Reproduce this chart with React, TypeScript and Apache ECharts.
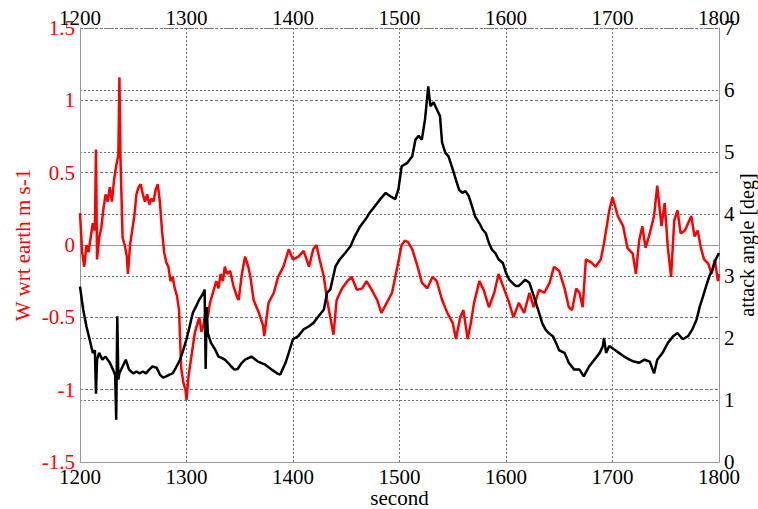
import React, { useEffect, useRef } from "react";
import * as echarts from "echarts";

const xTicks = [1200, 1300, 1400, 1500, 1600, 1700, 1800];

const redTime = [
  1200, 1202, 1204, 1206, 1208, 1210, 1212, 1214, 1215, 1216, 1218, 1220, 1222, 1224, 1226, 1228, 1230, 1232, 1234, 1236,
  1237, 1238, 1240, 1242, 1244, 1245, 1247, 1249, 1251, 1253, 1255, 1257, 1259, 1261, 1263, 1265, 1267, 1269, 1271, 1273,
  1275, 1277, 1279, 1281, 1283, 1285, 1287, 1289, 1291, 1293, 1295, 1297, 1299, 1300, 1302, 1304, 1306, 1308, 1310, 1312,
  1314, 1316, 1318, 1320, 1322, 1324, 1326, 1328, 1330, 1332, 1334, 1336, 1338, 1341, 1344, 1347, 1349, 1352, 1355, 1358,
  1360, 1363, 1368, 1372, 1373, 1377, 1382, 1386, 1391, 1396, 1400, 1405, 1410, 1415, 1419, 1422, 1425, 1429, 1432, 1435,
  1438, 1441, 1446, 1451, 1455, 1460, 1465, 1469, 1474, 1479, 1483, 1488, 1493, 1498, 1502, 1505, 1508, 1512, 1517, 1521,
  1526, 1531, 1535, 1540, 1545, 1550, 1553, 1557, 1560, 1564, 1567, 1570, 1575, 1579, 1584, 1589, 1593, 1598, 1603, 1607,
  1612, 1617, 1622, 1626, 1631, 1636, 1641, 1645, 1650, 1655, 1659, 1662, 1666, 1669, 1672, 1675, 1680, 1684, 1689, 1692,
  1697, 1700, 1705, 1710, 1714, 1719, 1722, 1725, 1728, 1731, 1735, 1739, 1742, 1746, 1749, 1752, 1755, 1758, 1761, 1764,
  1768, 1771, 1774, 1777, 1780, 1783, 1786, 1790, 1793, 1796, 1799, 1800,
];
const redValues = [
  0.22, -0.05, -0.15, 0.0, -0.05, 0.05, 0.15, 0.1, 0.66, -0.1, 0.05, 0.12, 0.25, 0.35, 0.3, 0.4, 0.3, 0.45, 0.55, 0.62,
  1.16, 0.6, 0.05, 0.0, -0.08, -0.2, 0.0, 0.1, 0.2, 0.35, 0.4, 0.42, 0.35, 0.3, 0.35, 0.28, 0.32, 0.3, 0.38, 0.42,
  0.3, 0.1, -0.05, -0.12, -0.15, -0.25, -0.22, -0.3, -0.35, -0.45, -0.85, -0.95, -1.0, -1.07, -0.9, -0.8, -0.7, -0.6, -0.55, -0.5,
  -0.6, -0.55, -0.45, -0.5, -0.4, -0.35, -0.3, -0.25, -0.3, -0.2, -0.25, -0.15, -0.2, -0.18, -0.28, -0.35, -0.38, -0.2, -0.08, -0.15,
  -0.22, -0.38, -0.47, -0.56, -0.63, -0.4, -0.33, -0.22, -0.15, -0.03, -0.1, -0.08, -0.04, -0.15, -0.03, 0.0, -0.1, -0.22, -0.38, -0.5,
  -0.62, -0.38, -0.3, -0.25, -0.22, -0.31, -0.3, -0.25, -0.31, -0.38, -0.47, -0.4, -0.33, -0.15, 0.0, 0.03, 0.02, -0.03, -0.15, -0.26,
  -0.3, -0.22, -0.25, -0.38, -0.47, -0.54, -0.65, -0.5, -0.45, -0.65, -0.54, -0.4, -0.25, -0.31, -0.43, -0.33, -0.2, -0.3, -0.4, -0.5,
  -0.4, -0.47, -0.33, -0.43, -0.31, -0.33, -0.26, -0.15, -0.18, -0.3, -0.43, -0.45, -0.3, -0.33, -0.43, -0.1, -0.12, -0.15, -0.1, 0.01,
  0.24, 0.33, 0.2, 0.13, -0.02, -0.06, -0.2, 0.03, 0.13, -0.02, 0.08, 0.2, 0.41, 0.13, 0.29, -0.02, -0.22, 0.17, 0.24, 0.08,
  0.1, 0.15, 0.2, 0.06, 0.1, -0.02, -0.1, -0.13, -0.2, -0.1, -0.25, -0.2,
];

const blackTime = [
  1200, 1203, 1206, 1209, 1212, 1214, 1215, 1216, 1218, 1221, 1224, 1228, 1231, 1233, 1234, 1235, 1236, 1237, 1240, 1243,
  1246, 1250, 1253, 1256, 1259, 1262, 1265, 1268, 1272, 1275, 1278, 1281, 1284, 1287, 1290, 1294, 1297, 1300, 1303, 1306,
  1309, 1312, 1316, 1317, 1318, 1319, 1320, 1323, 1327, 1330, 1333, 1336, 1339, 1342, 1345, 1348, 1352, 1355, 1361, 1367,
  1374, 1380, 1385, 1388, 1393, 1396, 1400, 1405, 1410, 1415, 1419, 1424, 1429, 1432, 1435, 1440, 1444, 1449, 1454, 1458,
  1463, 1468, 1472, 1477, 1482, 1487, 1491, 1496, 1499, 1502, 1507, 1512, 1515, 1518, 1521, 1524, 1527, 1529, 1532, 1535,
  1538, 1540, 1543, 1546, 1550, 1553, 1556, 1559, 1562, 1565, 1568, 1571, 1575, 1578, 1581, 1584, 1587, 1590, 1593, 1597,
  1600, 1603, 1606, 1609, 1612, 1615, 1618, 1622, 1625, 1628, 1631, 1634, 1637, 1640, 1644, 1647, 1650, 1655, 1659, 1664,
  1669, 1673, 1678, 1683, 1688, 1691, 1692, 1694, 1697, 1702, 1706, 1711, 1716, 1720, 1725, 1730, 1735, 1739, 1742, 1747,
  1752, 1757, 1761, 1766, 1771, 1775, 1779, 1782, 1785, 1788, 1791, 1794, 1797, 1800,
];
const blackValues = [
  2.83, 2.46, 2.19, 1.98, 1.76, 1.8, 1.1, 1.65, 1.76, 1.65, 1.7, 1.6, 1.49, 1.4, 0.68, 2.35, 1.33, 1.43, 1.54, 1.65,
  1.49, 1.43, 1.46, 1.43, 1.46, 1.43, 1.49, 1.54, 1.52, 1.41, 1.36, 1.38, 1.41, 1.43, 1.52, 1.65, 1.81, 1.98, 2.19, 2.41,
  2.51, 2.62, 2.73, 2.78, 1.5, 2.5, 2.08, 1.92, 1.81, 1.7, 1.68, 1.65, 1.6, 1.54, 1.49, 1.5, 1.6, 1.65, 1.7, 1.62,
  1.57, 1.49, 1.43, 1.41, 1.6, 1.76, 1.98, 2.03, 2.14, 2.19, 2.24, 2.35, 2.46, 2.73, 2.78, 3.16, 3.27, 3.37, 3.48, 3.64,
  3.8, 3.91, 4.02, 4.13, 4.24, 4.34, 4.29, 4.24, 4.4, 4.77, 4.82, 4.93, 5.2, 5.26, 5.2, 5.53, 6.06, 5.74, 5.8, 5.69,
  5.58, 5.15, 4.99, 4.93, 4.72, 4.55, 4.39, 4.34, 4.37, 4.29, 4.13, 3.96, 3.85, 3.75, 3.69, 3.53, 3.42, 3.37, 3.27, 3.21,
  3.05, 2.94, 2.89, 2.84, 2.84, 2.89, 2.94, 2.89, 2.73, 2.57, 2.41, 2.24, 2.14, 2.08, 2.03, 1.92, 1.8, 1.76, 1.6, 1.49,
  1.49, 1.38, 1.54, 1.65, 1.76, 1.87, 2.0, 1.76, 1.87, 1.81, 1.76, 1.7, 1.65, 1.62, 1.6, 1.65, 1.62, 1.43, 1.65, 1.76,
  1.92, 2.03, 2.08, 1.98, 2.03, 2.14, 2.3, 2.51, 2.67, 2.84, 3.0, 3.11, 3.27, 3.37,
];

const FONT = "'Liberation Serif', 'Times New Roman', 'DejaVu Serif', serif";
const GRID_COLOR = "#777";
const FRAME_COLOR = "#999";
const plain = (v: number) => String(v);

export default function App() {
  const ref = useRef<HTMLDivElement>(null);
  useEffect(() => {
    if (!ref.current) return;
    const chart = echarts.init(ref.current, undefined, { renderer: "svg" });
    const redData = redTime.map((t, i) => [t, redValues[i]]);
    const blackData = blackTime.map((t, i) => [t, blackValues[i]]);
    const xCommon = {
      type: "value" as const,
      min: xTicks[0],
      max: xTicks[xTicks.length - 1],
      interval: 100,
      axisLine: { show: true, lineStyle: { color: FRAME_COLOR, width: 1 } },
      axisTick: { show: false },
    };
    chart.setOption({
      animation: false,
      backgroundColor: "#fff",
      textStyle: { fontFamily: FONT },
      grid: {
        left: 80,
        right: 39,
        top: 28,
        bottom: 47,
        containLabel: false,
        outerBoundsMode: "none",
      },
      xAxis: [
        {
          ...xCommon,
          position: "bottom",
          name: "second",
          nameLocation: "middle",
          nameGap: 25,
          nameMoveOverlap: false,
          nameTextStyle: { color: "#000", fontFamily: FONT, fontSize: 21 },
          axisLabel: { color: "#000", fontFamily: FONT, fontSize: 21, margin: 4, formatter: plain },
          splitLine: { show: true, lineStyle: { color: GRID_COLOR, type: [2, 2], width: 1 } },
        },
        {
          ...xCommon,
          position: "top",
          axisLabel: { color: "#000", fontFamily: FONT, fontSize: 21, margin: 0, formatter: plain },
          splitLine: { show: false },
        },
      ],
      yAxis: [
        {
          type: "value",
          position: "left",
          min: -1.5,
          max: 1.5,
          interval: 0.5,
          name: "W wrt earth m s-1",
          nameLocation: "middle",
          nameGap: 47,
          nameMoveOverlap: false,
          nameTextStyle: { color: "#ff0000", fontFamily: FONT, fontSize: 21 },
          axisLine: { show: true, lineStyle: { color: FRAME_COLOR, width: 1 } },
          axisTick: { show: false },
          axisLabel: { color: "#ff0000", fontFamily: FONT, fontSize: 21, margin: 5, formatter: plain },
          splitLine: { show: true, lineStyle: { color: GRID_COLOR, type: [3, 2], width: 1 } },
        },
        {
          type: "value",
          position: "right",
          min: 0,
          max: 7,
          interval: 1,
          name: "attack angle [deg]",
          nameLocation: "middle",
          nameGap: 18,
          nameMoveOverlap: false,
          nameTextStyle: { color: "#000", fontFamily: FONT, fontSize: 20 },
          axisLine: { show: true, lineStyle: { color: FRAME_COLOR, width: 1 } },
          axisTick: { show: false },
          axisLabel: { color: "#000", fontFamily: FONT, fontSize: 21, margin: 5, formatter: plain },
          splitLine: { show: true, lineStyle: { color: GRID_COLOR, type: [2, 2], width: 1 } },
        },
      ],
      series: [
        {
          type: "line",
          xAxisIndex: 0,
          yAxisIndex: 0,
          data: redData,
          showSymbol: false,
          symbol: "none",
          lineStyle: { color: "#ff0000", width: 2.5 },
          z: 2,
        },
        {
          type: "line",
          xAxisIndex: 0,
          yAxisIndex: 1,
          data: blackData,
          showSymbol: false,
          symbol: "none",
          lineStyle: { color: "#000", width: 2.5 },
          z: 3,
        },
      ],
    });
    return () => chart.dispose();
  }, []);
  return (
    <div
      ref={ref}
      style={{ position: "fixed", left: 0, top: 0, width: 758, height: 509, background: "#fff" }}
    />
  );
}
